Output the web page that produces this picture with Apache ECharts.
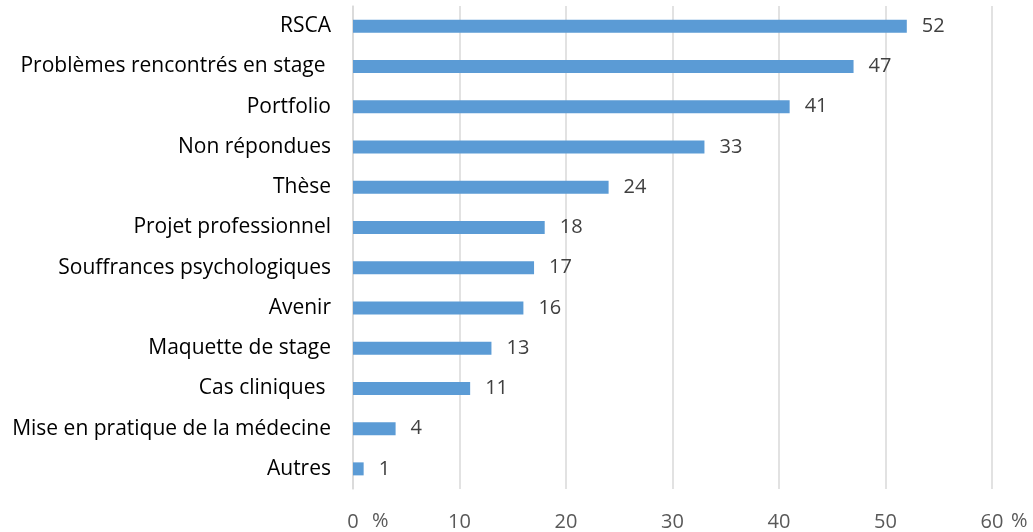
<!DOCTYPE html>
<html lang="fr">
  <head>
    <meta charset="UTF-8" />
    <title>Thèmes abordés</title>
    <script src="https://cdn.jsdelivr.net/npm/echarts@6.0.0/dist/echarts.min.js"></script>
    <style>
      body {
        margin: 0;
        background-color: #ffffff;
      }

      #chart {
        width: 1033px;
        height: 532px;
      }
    </style>
  </head>
  <body>
    <div id="chart"></div>
    <script>
      const chart = echarts.init(document.getElementById("chart"));

      // categories, top to bottom
      var themes = [
        "RSCA",
        "Problèmes rencontrés en stage ",
        "Portfolio",
        "Non répondues",
        "Thèse",
        "Projet professionnel",
        "Souffrances psychologiques",
        "Avenir",
        "Maquette de stage",
        "Cas cliniques ",
        "Mise en pratique de la médecine",
        "Autres",
      ];
      var pourcentages = [52, 47, 41, 33, 24, 18, 17, 16, 13, 11, 4, 1];

      var font = "Open Sans, Liberation Sans, sans-serif";

      const options = {
        animation: false,
        grid: {
          left: 353,
          right: 41,
          top: 6,
          bottom: 42,
        },
        xAxis: {
          type: "value",
          min: 0,
          max: 60,
          interval: 10,
          axisLine: { show: false },
          axisTick: { show: false },
          axisLabel: {
            margin: 23,
            fontSize: 20,
            color: "#595959",
            fontFamily: font,
          },
          splitLine: {
            lineStyle: { color: "#d9d9d9", width: 1.5 },
          },
        },
        yAxis: {
          type: "category",
          data: themes,
          inverse: true,
          axisLine: {
            lineStyle: { color: "#d9d9d9", width: 1.5 },
          },
          axisTick: { show: false },
          axisLabel: {
            margin: 22,
            fontSize: 21,
            color: "#000000",
            fontFamily: font,
          },
        },
        series: [
          {
            type: "bar",
            data: pourcentages,
            barWidth: 13,
            itemStyle: { color: "#5b9bd5" },
            label: {
              show: true,
              position: "right",
              distance: 15,
              fontSize: 20,
              color: "#404040",
              fontFamily: font,
            },
          },
        ],
        // unit marks next to 0 and 60
        graphic: [
          {
            type: "text",
            left: 372,
            top: 511,
            style: { text: "%", fontSize: 20, fill: "#595959", fontFamily: font },
          },
          {
            type: "text",
            left: 1011,
            top: 511,
            style: { text: "%", fontSize: 20, fill: "#595959", fontFamily: font },
          },
        ],
      };

      chart.setOption(options);
    </script>
  </body>
</html>
